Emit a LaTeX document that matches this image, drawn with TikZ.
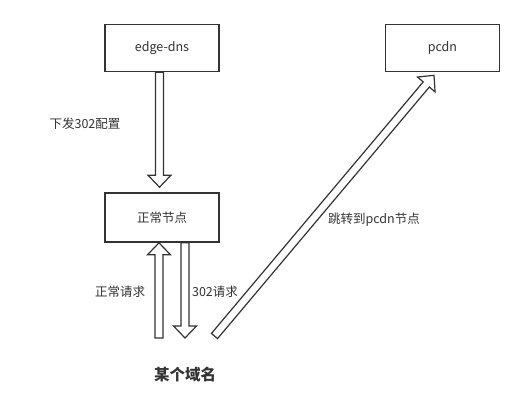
\documentclass[tikz,border=0pt]{standalone}
\usepackage{fontspec}
\newfontfamily\cjk{Noto Sans CJK SC}
\usetikzlibrary{calc, positioning}

\definecolor{ink}{HTML}{333333}

% hollow block arrow from #1 to #2 (tip at #2)
\newcommand{\hollowarrow}[2]{%
  \coordinate (hb) at ($(#2)!12pt!(#1)$);
  \draw[harrow] ($(#1)!4pt!90:(#2)$) -- ($(hb)!4pt!-90:(#1)$)
    -- ($(hb)!11.5pt!-90:(#1)$) -- (#2) -- ($(hb)!11.5pt!90:(#1)$)
    -- ($(hb)!4pt!90:(#1)$) -- ($(#1)!4pt!-90:(#2)$) -- cycle;
}

\begin{document}
\begin{tikzpicture}[
  x=1pt, y=1pt,
  box/.style    = {rectangle, draw=ink, line width=1.6pt, fill=white,
                   minimum width=114pt, minimum height=47pt,
                   font=\cjk\fontsize{12.5}{14}\selectfont, text=ink},
  harrow/.style = {draw=ink, line width=1.2pt, fill=white, line join=miter},
  lbl/.style    = {font=\cjk\fontsize{12.5}{14}\selectfont, text=ink, inner sep=1pt},
  title/.style  = {font=\cjk\bfseries\fontsize{15.5}{18}\selectfont, text=ink},
]
\useasboundingbox (0,0) rectangle (518,417);

% -- Boxes ---------------------------------------------------------------
\node[box] (edns)   at (162,369)   {edge-dns};
\node[box, minimum height=49pt] (normal) at (162,199.5) {正常节点};
\node[box] (pcdn)   at (442.5,369) {pcdn};

% -- Domain --------------------------------------------------------------
\node[title] (dom) at (185,42) {某个域名};
\coordinate (upfrom)   at (159,79);
\coordinate (downto)   at (185,79);
\coordinate (jumpfrom) at (214.5,81);

% -- Arrows --------------------------------------------------------------
\hollowarrow{[xshift=-2.5pt]edns.south}{[xshift=-2.5pt, yshift=5pt]normal.north}
\hollowarrow{upfrom}{[xshift=-3pt]normal.south}
\hollowarrow{[xshift=23pt]normal.south}{downto}
\hollowarrow{jumpfrom}{[xshift=-8.5pt, yshift=-3pt]pcdn.south}

% -- Labels --------------------------------------------------------------
\node[lbl] (cfg)  at (85,293)  {下发302配置};
\node[lbl] (req)  at (120,125) {正常请求};
\node[lbl] (r302) at (215,125) {302请求};
\node[lbl] (jump) at (374,197) {跳转到pcdn节点};

\end{tikzpicture}
\end{document}
